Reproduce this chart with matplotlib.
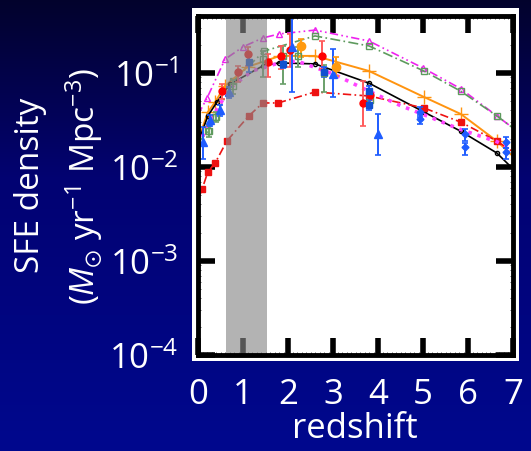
import matplotlib
matplotlib.use("Agg")
import matplotlib.pyplot as plt
import matplotlib.patches as mpatches
from matplotlib.colors import LinearSegmentedColormap
from matplotlib.ticker import AutoMinorLocator, LogLocator, NullFormatter, FuncFormatter, FixedLocator
import numpy as np

plt.rcParams.update({
    "font.family": ["Open Sans", "DejaVu Sans"],
    "mathtext.fontset": "custom",
    "mathtext.rm": "Open Sans",
    "mathtext.it": "Open Sans:italic",
    "mathtext.fallback": "stixsans",
})

# model curves (redshift, SFR density)
mag_z = [0.0, 0.2, 0.6, 1.0, 1.44, 1.8, 2.6, 3.8, 5.0, 5.84, 6.64, 7.0]
mag_y = [0.036, 0.054, 0.14, 0.19, 0.236, 0.26, 0.286, 0.219, 0.113, 0.068, 0.035, 0.026]
grn_z = [0.0, 0.22, 0.38, 0.78, 1.47, 2.6, 3.8, 5.02, 5.84, 6.64, 7.0]
grn_y = [0.018, 0.024, 0.034, 0.082, 0.171, 0.248, 0.194, 0.105, 0.064, 0.035, 0.026]
org_z = [0.0, 0.22, 0.38, 0.6, 1.1, 1.82, 2.6, 3.8, 5.02, 5.84, 6.64, 7.0]
org_y = [0.019, 0.0385, 0.049, 0.073, 0.116, 0.152, 0.152, 0.105, 0.0556, 0.0366, 0.0189, 0.013]
blk_z = [0.0, 0.22, 0.42, 0.71, 1.44, 1.8, 2.6, 3.8, 5.02, 5.84, 6.64, 6.93]
blk_y = [0.018, 0.035, 0.049, 0.076, 0.119, 0.128, 0.125, 0.078, 0.0385, 0.024, 0.0141, 0.0103]
red_z = [0.0, 0.09, 0.22, 0.38, 0.64, 1.13, 1.44, 1.78, 2.6, 3.8, 5.02, 5.84, 6.64, 7.0]
red_y = [0.0045, 0.0058, 0.0089, 0.011, 0.0189, 0.035, 0.048, 0.048, 0.0628, 0.0569, 0.0425, 0.030, 0.0189, 0.0145]
pnk_z = [0.0, 0.3, 0.7, 1.2, 1.8, 2.2, 3.0, 3.8, 4.5, 5.02, 5.84, 6.64, 7.0]
pnk_y = [0.017, 0.033, 0.068, 0.105, 0.128, 0.134, 0.098, 0.064, 0.045, 0.036, 0.025, 0.0186, 0.0155]

# observations (value, lower, upper)
rc_z = [0.53, 0.89, 1.11, 1.56, 1.84, 2.04, 2.76, 3.67, 3.82]
rc_y = [0.064, 0.103, 0.159, 0.131, 0.152, 0.176, 0.152, 0.048, 0.058]
rc_lo = [0.053, 0.080, 0.119, 0.091, 0.110, 0.116, 0.110, 0.027, 0.052]
rc_hi = [0.076, 0.119, 0.189, 0.159, 0.194, 0.260, 0.219, 0.082, 0.064]

bt_z = [0.11, 0.27, 0.49, 0.69, 2.09, 3.0, 4.0]
bt_y = [0.0185, 0.0316, 0.040, 0.063, 0.189, 0.098, 0.0224]
bt_lo = [0.0122, 0.027, 0.035, 0.054, 0.063, 0.056, 0.0134]
bt_hi = [0.0267, 0.036, 0.046, 0.071, 0.45, 0.18, 0.0366]

bs_z = [1.13, 1.89, 2.8, 3.8, 3.8]
bs_y = [0.131, 0.125, 0.103, 0.064, 0.046]
bs_lo = [0.103, 0.112, 0.090, 0.057, 0.040]
bs_hi = [0.152, 0.140, 0.115, 0.072, 0.052]

gs_z = [0.24, 0.40, 0.78, 1.44, 1.89, 2.22, 2.8, 3.82]
gs_y = [0.024, 0.034, 0.073, 0.141, 0.152, 0.152, 0.10, 0.052]
gs_lo = [0.021, 0.030, 0.060, 0.091, 0.076, 0.116, 0.063, 0.043]
gs_hi = [0.027, 0.038, 0.085, 0.171, 0.194, 0.190, 0.123, 0.064]

oc_z = [2.29, 3.07]
oc_y = [0.194, 0.116]
oc_lo = [0.148, 0.093]
oc_hi = [0.23, 0.148]

bd_z = [4.93, 4.93, 5.93, 5.93, 6.84, 6.84]
bd_y = [0.0385, 0.0324, 0.0224, 0.0163, 0.0185, 0.0145]
bd_lo = [0.034, 0.0287, 0.019, 0.0135, 0.016, 0.0122]
bd_hi = [0.0435, 0.036, 0.0255, 0.018, 0.0208, 0.016]

shade = (0.62, 1.53)

fig = plt.figure(figsize=(5.31, 4.52), dpi=100)

# gradient background
bg = fig.add_axes([0, 0, 1, 1], zorder=-10)
cmap = LinearSegmentedColormap.from_list("bg", [(0, "#03032c"), (0.4, "#020272"), (1, "#00088e")])
bg.imshow(np.linspace(0, 1, 256)[:, None], aspect="auto", cmap=cmap, extent=[0, 1, 0, 1])
bg.set_axis_off()
fig.patches.append(mpatches.Rectangle((0.3616, 0.199), 0.6158, 0.781, transform=fig.transFigure,
                                      facecolor="white", edgecolor="none", zorder=-5))

ax = fig.add_axes([0.3729, 0.2124, 0.5932, 0.75])
ax.set_yscale("log")

def curve(z, y, color, ls, marker, ms, mfc, lw=1.2):
    ax.plot(z, y, color=color, ls=ls, lw=lw, marker=marker, ms=ms, mfc=mfc, mec=color,
            mew=1.0, markevery=list(range(1, len(z) - 1)))

def obs(z, y, lo, hi, color, ecolor, marker, ms, mfc=None):
    y = np.array(y)
    err = [y - np.array(lo), np.array(hi) - y]
    ax.errorbar(z, y, yerr=err, fmt=marker, color=color, ecolor=ecolor, ms=ms,
                mfc=mfc if mfc else color, mec=color, elinewidth=1.4, capsize=2, capthick=1.2)

curve(mag_z, mag_y, "#ee22ee", (0, (5, 2, 1, 2, 1, 2)), "^", 5, "none")
curve(grn_z, grn_y, "#5e9a5e", (0, (6, 2, 1, 2)), "s", 5, "none")
curve(org_z, org_y, "#ff9410", "-", "+", 10, "#ff9410", lw=1.4)
curve(blk_z, blk_y, "black", "-", "o", 3, "none")
curve(red_z, red_y, "#ee1111", (0, (5, 2, 1, 2)), "s", 4, "#ee1111")
ax.plot(pnk_z, pnk_y, color="#ff44ff", ls=":", lw=2.6)

obs(gs_z, gs_y, gs_lo, gs_hi, "#5e9a5e", "#6aa06a", "s", 5, "none")
obs(rc_z, rc_y, rc_lo, rc_hi, "#ff0000", "#ff5a5a", "o", 5)
obs(bt_z, bt_y, bt_lo, bt_hi, "#1e5cff", "#1e5cff", "^", 6)
obs(bs_z, bs_y, bs_lo, bs_hi, "#1050d0", "#1e5cff", "s", 5)
obs(oc_z, oc_y, oc_lo, oc_hi, "#ff9a10", "#ff9a10", "o", 6)
obs(bd_z, bd_y, bd_lo, bd_hi, "#1e5cff", "#1e5cff", "D", 3.5)

ax.axvspan(*shade, ymin=-0.008, ymax=1, color="#878787", alpha=0.63, lw=0, zorder=10, clip_on=False)

ax.set_xlim(0, 7)
ax.set_ylim(1e-4, 0.404)

ax.xaxis.set_major_locator(FixedLocator(range(0, 8)))
ax.xaxis.set_minor_locator(AutoMinorLocator(10))
ax.yaxis.set_major_locator(LogLocator(base=10, numticks=10))
ax.yaxis.set_minor_locator(LogLocator(base=10, subs=np.arange(2, 10), numticks=10))
ax.yaxis.set_minor_formatter(NullFormatter())
ax.yaxis.set_major_formatter(FuncFormatter(
    lambda v, p: rf"$\mathregular{{10^{{{int(round(np.log10(v)))}}}}}$"))

ax.tick_params(which="major", direction="in", length=12, width=4, top=True, right=True,
               labelsize=25, labelcolor="white", color="black")
ax.tick_params(axis="y", which="major", pad=14)
ax.tick_params(axis="x", which="major", pad=16)
ax.tick_params(which="minor", direction="in", length=2, width=0.6, top=True, right=True, color="#444444")
for s in ax.spines.values():
    s.set_linewidth(3.5)
    s.set_zorder(12)

fig.text(0.0565, 0.590, "SFE density", rotation=90, ha="center", va="center", color="white", fontsize=24)
fig.text(0.158, 0.588, r"($\mathit{M}_{\odot}$ yr$^{\mathregular{-1}}$ Mpc$^{\mathregular{-3}}$)",
         rotation=90, ha="center", va="center", color="white", fontsize=24)
fig.text(0.669, 0.03, "redshift", ha="center", va="baseline", color="white", fontsize=25)

fig.savefig("out.png", dpi=100)
